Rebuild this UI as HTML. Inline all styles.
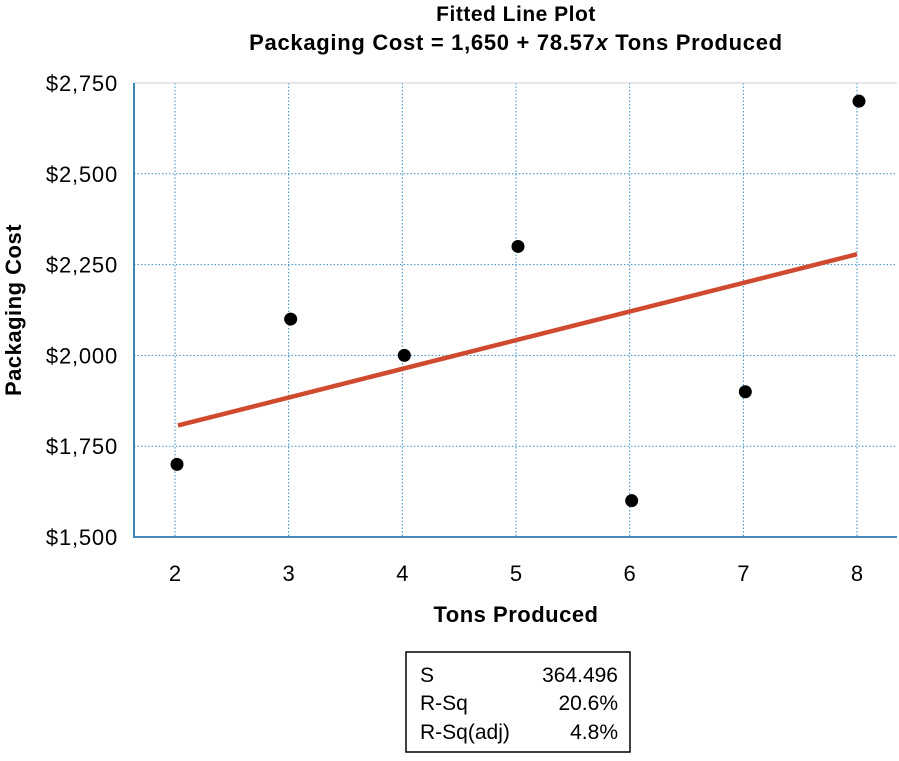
<!DOCTYPE html>
<html><head><meta charset="utf-8"><style>
body{margin:0;background:#fff;font-family:"Liberation Sans",sans-serif}
svg text{font-family:"Liberation Sans",sans-serif;fill:#000}
</style></head><body>
<svg id="chart" width="899" height="756" xmlns="http://www.w3.org/2000/svg">
<text x="516" y="21" font-size="21" font-weight="bold" text-anchor="middle" letter-spacing="0.5">Fitted Line Plot</text>
<text x="516" y="50" font-size="22" font-weight="bold" text-anchor="middle" letter-spacing="0.7">Packaging Cost = 1,650 + 78.57<tspan font-style="italic">x</tspan> Tons Produced</text>
<g id="grid"></g>
<line x1="134" y1="83" x2="897" y2="83" stroke="#ccd" stroke-width="1"/>
<line x1="134" y1="83" x2="134" y2="538" stroke="#3a86b8" stroke-width="2"/>
<line x1="134" y1="537" x2="897" y2="537" stroke="#4a8ab8" stroke-width="2"/>
<g id="ticks"></g>
<g id="marks"></g>
<text x="516" y="622" font-size="22" font-weight="bold" text-anchor="middle" letter-spacing="0.5">Tons Produced</text>
<text transform="translate(21,310) rotate(-90)" font-size="22" font-weight="bold" text-anchor="middle" letter-spacing="0.5">Packaging Cost</text>
<g>
<rect x="406" y="652" width="224" height="100" fill="#fff" stroke="#000" stroke-width="1.5"/>
<text x="420" y="682" font-size="21">S</text><text x="618" y="682" font-size="21" text-anchor="end">364.496</text>
<text x="420" y="710" font-size="21">R-Sq</text><text x="618" y="710" font-size="21" text-anchor="end">20.6%</text>
<text x="420" y="739" font-size="21">R-Sq(adj)</text><text x="618" y="739" font-size="21" text-anchor="end">4.8%</text>
</g>
</svg>
<script>
const xTicks=[2,3,4,5,6,7,8];
const yTicks=[1500,1750,2000,2250,2500,2750];
const yTickLabels=["$1,500","$1,750","$2,000","$2,250","$2,500","$2,750"];
const tons=[2,3,4,5,6,7,8];
const cost=[1700,2100,2000,2300,1600,1900,2700];
const intercept=1650;
const slope=78.57;
const NS="http://www.w3.org/2000/svg";
const xs=v=>175+(v-2)*(857-175)/6;
const ys=v=>537-(v-1500)*(537-83)/1250;
function mk(t,a,p){const e=document.createElementNS(NS,t);for(const k in a)e.setAttribute(k,a[k]);p.appendChild(e);return e;}
const grid=document.getElementById('grid'),ticks=document.getElementById('ticks'),marks=document.getElementById('marks');
xTicks.forEach(v=>{
 const l=mk('line',{x1:xs(v),x2:xs(v),y1:83,y2:537,stroke:'#3a8cc0','stroke-width':1,'stroke-dasharray':'1.5 2'},grid);
 
 
 const t=mk('text',{x:xs(v),y:581,'font-size':22,'text-anchor':'middle'},ticks);t.textContent=v;
 
 
});
yTicks.forEach((v,i)=>{
 if(i>0&&i<yTicks.length-1){const l=mk('line',{x1:134,x2:897,y1:ys(v),y2:ys(v),stroke:'#3a8cc0','stroke-width':1,'stroke-dasharray':'1.5 2'},grid);
 
 }
 const t=mk('text',{x:118,y:ys(v)+8,'font-size':22,'text-anchor':'end','letter-spacing':'0.8'},ticks);t.textContent=yTickLabels[i];
 
 
});
const x0=xTicks[0],x1=xTicks[xTicks.length-1];
const fl=mk('line',{x1:xs(x0)+3,y1:ys(intercept+slope*x0),x2:xs(x1),y2:ys(intercept+slope*x1),stroke:'#d04a2f','stroke-width':4.5},marks);


tons.forEach((v,i)=>{
 const c=mk('circle',{cx:xs(v)+2,cy:ys(cost[i]),r:6.5,fill:'#000'},marks);
 
 
});
</script>
</body></html>
